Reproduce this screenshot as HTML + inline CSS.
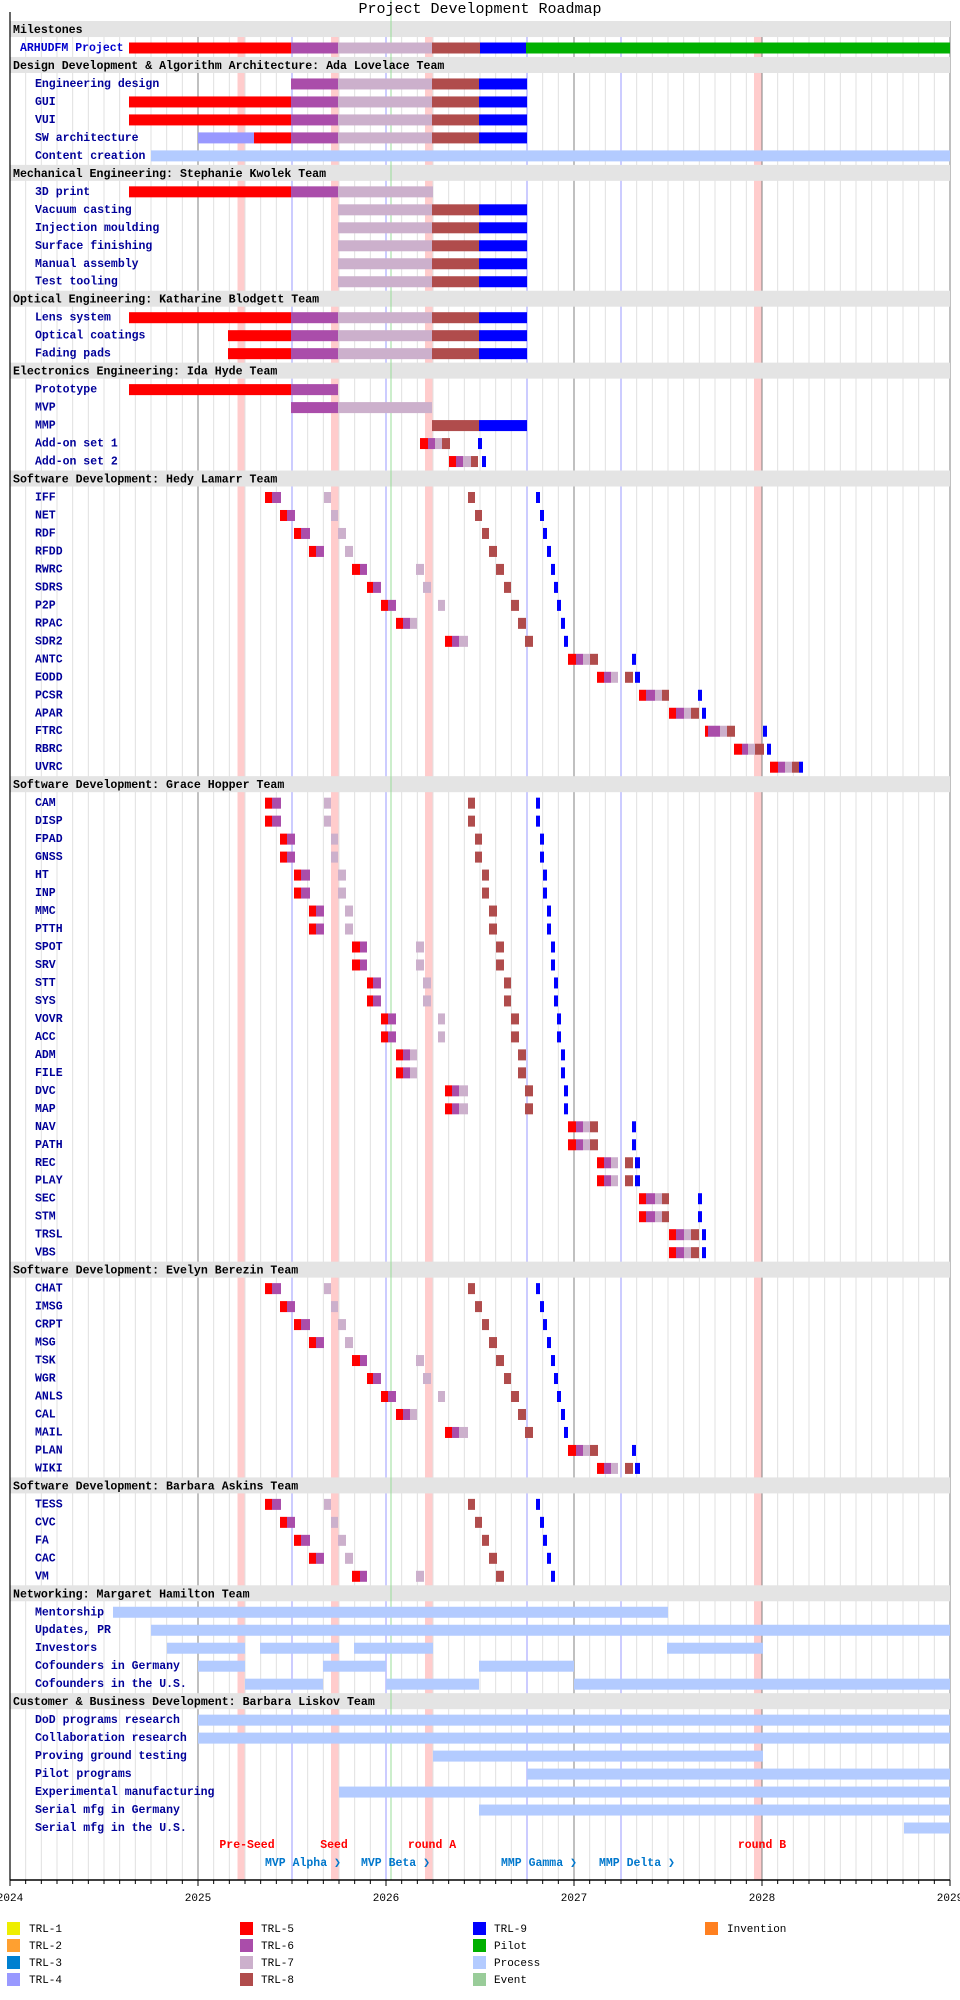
<!DOCTYPE html>
<html><head><meta charset="utf-8"><style>
html,body{margin:0;padding:0;background:#fff;width:960px;height:2000px;overflow:hidden}
svg{display:block}
text{font-family:"Liberation Mono",monospace}
.h{font-size:11.6px;font-weight:bold;fill:#000}
.r{font-size:11.5px;font-weight:bold;fill:#000099}
.y{font-size:11px;fill:#000}
.l{font-size:11px;fill:#000}
</style></head><body>
<svg id="s" width="960" height="2000" viewBox="0 0 960 2000" xmlns="http://www.w3.org/2000/svg">
<g id="bg"></g>
<g id="hd"></g>
<g id="gl"></g>
<g id="bars"></g>
<text x="480" y="13" text-anchor="middle" style="font-size:15px;fill:#000">Project Development Roadmap</text>
<g class="h">
<text x="13" y="33">Milestones</text>
<text x="13" y="69">Design Development &amp; Algorithm Architecture: Ada Lovelace Team</text>
<text x="13" y="176.9">Mechanical Engineering: Stephanie Kwolek Team</text>
<text x="13" y="302.7">Optical Engineering: Katharine Blodgett Team</text>
<text x="13" y="374.6">Electronics Engineering: Ida Hyde Team</text>
<text x="13" y="482.5">Software Development: Hedy Lamarr Team</text>
<text x="13" y="788.2">Software Development: Grace Hopper Team</text>
<text x="13" y="1273.6">Software Development: Evelyn Berezin Team</text>
<text x="13" y="1489.4">Software Development: Barbara Askins Team</text>
<text x="13" y="1597.3">Networking: Margaret Hamilton Team</text>
<text x="13" y="1705.2">Customer &amp; Business Development: Barbara Liskov Team</text>
</g>
<text x="20" y="51" class="r" style="fill:#0000cc">ARHUDFM Project</text>
<g class="r">
<text x="35" y="87">Engineering design</text>
<text x="35" y="104.9">GUI</text>
<text x="35" y="122.9">VUI</text>
<text x="35" y="140.9">SW architecture</text>
<text x="35" y="158.9">Content creation</text>
<text x="35" y="194.8">3D print</text>
<text x="35" y="212.8">Vacuum casting</text>
<text x="35" y="230.8">Injection moulding</text>
<text x="35" y="248.8">Surface finishing</text>
<text x="35" y="266.8">Manual assembly</text>
<text x="35" y="284.7">Test tooling</text>
<text x="35" y="320.7">Lens system</text>
<text x="35" y="338.7">Optical coatings</text>
<text x="35" y="356.7">Fading pads</text>
<text x="35" y="392.6">Prototype</text>
<text x="35" y="410.6">MVP</text>
<text x="35" y="428.6">MMP</text>
<text x="35" y="446.6">Add-on set 1</text>
<text x="35" y="464.5">Add-on set 2</text>
<text x="35" y="500.5">IFF</text>
<text x="35" y="518.5">NET</text>
<text x="35" y="536.5">RDF</text>
<text x="35" y="554.4">RFDD</text>
<text x="35" y="572.4">RWRC</text>
<text x="35" y="590.4">SDRS</text>
<text x="35" y="608.4">P2P</text>
<text x="35" y="626.4">RPAC</text>
<text x="35" y="644.3">SDR2</text>
<text x="35" y="662.3">ANTC</text>
<text x="35" y="680.3">EODD</text>
<text x="35" y="698.3">PCSR</text>
<text x="35" y="716.3">APAR</text>
<text x="35" y="734.2">FTRC</text>
<text x="35" y="752.2">RBRC</text>
<text x="35" y="770.2">UVRC</text>
<text x="35" y="806.2">CAM</text>
<text x="35" y="824.1">DISP</text>
<text x="35" y="842.1">FPAD</text>
<text x="35" y="860.1">GNSS</text>
<text x="35" y="878.1">HT</text>
<text x="35" y="896.1">INP</text>
<text x="35" y="914">MMC</text>
<text x="35" y="932">PTTH</text>
<text x="35" y="950">SPOT</text>
<text x="35" y="968">SRV</text>
<text x="35" y="986">STT</text>
<text x="35" y="1003.9">SYS</text>
<text x="35" y="1021.9">VOVR</text>
<text x="35" y="1039.9">ACC</text>
<text x="35" y="1057.9">ADM</text>
<text x="35" y="1075.9">FILE</text>
<text x="35" y="1093.8">DVC</text>
<text x="35" y="1111.8">MAP</text>
<text x="35" y="1129.8">NAV</text>
<text x="35" y="1147.8">PATH</text>
<text x="35" y="1165.8">REC</text>
<text x="35" y="1183.7">PLAY</text>
<text x="35" y="1201.7">SEC</text>
<text x="35" y="1219.7">STM</text>
<text x="35" y="1237.7">TRSL</text>
<text x="35" y="1255.7">VBS</text>
<text x="35" y="1291.6">CHAT</text>
<text x="35" y="1309.6">IMSG</text>
<text x="35" y="1327.6">CRPT</text>
<text x="35" y="1345.6">MSG</text>
<text x="35" y="1363.5">TSK</text>
<text x="35" y="1381.5">WGR</text>
<text x="35" y="1399.5">ANLS</text>
<text x="35" y="1417.5">CAL</text>
<text x="35" y="1435.5">MAIL</text>
<text x="35" y="1453.4">PLAN</text>
<text x="35" y="1471.4">WIKI</text>
<text x="35" y="1507.4">TESS</text>
<text x="35" y="1525.4">CVC</text>
<text x="35" y="1543.3">FA</text>
<text x="35" y="1561.3">CAC</text>
<text x="35" y="1579.3">VM</text>
<text x="35" y="1615.3">Mentorship</text>
<text x="35" y="1633.2">Updates, PR</text>
<text x="35" y="1651.2">Investors</text>
<text x="35" y="1669.2">Cofounders in Germany</text>
<text x="35" y="1687.2">Cofounders in the U.S.</text>
<text x="35" y="1723.1">DoD programs research</text>
<text x="35" y="1741.1">Collaboration research</text>
<text x="35" y="1759.1">Proving ground testing</text>
<text x="35" y="1777.1">Pilot programs</text>
<text x="35" y="1795.1">Experimental manufacturing</text>
<text x="35" y="1813">Serial mfg in Germany</text>
<text x="35" y="1831">Serial mfg in the U.S.</text>
</g>
<g style="font-size:11.5px;font-weight:bold;fill:#ff0000" text-anchor="middle">
<text x="247" y="1848">Pre-Seed</text>
<text x="334" y="1848">Seed</text>
<text x="432" y="1848">round A</text>
<text x="762" y="1848">round B</text>
</g>
<g style="font-size:11.5px;font-weight:bold;fill:#0077cc">
<text x="265" y="1866">MVP Alpha ❯</text>
<text x="361" y="1866">MVP Beta ❯</text>
<text x="501" y="1866">MMP Gamma ❯</text>
<text x="599" y="1866">MMP Delta ❯</text>
</g>
<g class="y" text-anchor="middle">
<text x="10" y="1901">2024</text>
<text x="198" y="1901">2025</text>
<text x="386" y="1901">2026</text>
<text x="574" y="1901">2027</text>
<text x="762" y="1901">2028</text>
<text x="950" y="1901">2029</text>
</g>
<g>
<rect x="7" y="1922" width="13" height="13" fill="#eeee00"/><rect x="7" y="1939" width="13" height="13" fill="#ffa030"/><rect x="7" y="1956" width="13" height="13" fill="#0080d0"/><rect x="7" y="1973" width="13" height="13" fill="#9999ff"/>
<rect x="240" y="1922" width="13" height="13" fill="#ff0000"/><rect x="240" y="1939" width="13" height="13" fill="#aa4daa"/><rect x="240" y="1956" width="13" height="13" fill="#ccb0cc"/><rect x="240" y="1973" width="13" height="13" fill="#b04c4c"/>
<rect x="473" y="1922" width="13" height="13" fill="#0000ff"/><rect x="473" y="1939" width="13" height="13" fill="#00b000"/><rect x="473" y="1956" width="13" height="13" fill="#b3cbff"/><rect x="473" y="1973" width="13" height="13" fill="#99cc99"/>
<rect x="705" y="1922" width="13" height="13" fill="#ff8020"/>
</g>
<g class="l">
<text x="29" y="1932">TRL-1</text><text x="29" y="1949">TRL-2</text><text x="29" y="1966">TRL-3</text><text x="29" y="1983">TRL-4</text>
<text x="261" y="1932">TRL-5</text><text x="261" y="1949">TRL-6</text><text x="261" y="1966">TRL-7</text><text x="261" y="1983">TRL-8</text>
<text x="494" y="1932">TRL-9</text><text x="494" y="1949">Pilot</text><text x="494" y="1966">Process</text><text x="494" y="1983">Event</text>
<text x="727" y="1932">Invention</text>
</g>
</svg>
<script>
(function(){
var NS="http://www.w3.org/2000/svg";
function el(g,tag,a){var e=document.createElementNS(NS,tag);for(var k in a)e.setAttribute(k,a[k]);document.getElementById(g).appendChild(e);return e;}
function Y(i){return 24.02+17.98*i;}
function R(g,x1,x2,y,h,c){el(g,"rect",{x:x1,y:y,width:Math.max(0,x2-x1),height:h,fill:c});}
var C={R:"#ff0000",P:"#aa4daa",L:"#ccb0cc",M:"#b04c4c",B:"#0000ff",G:"#00b000",S:"#b3cbff",F:"#9999ff"};
// pink bands
[[237.5,245],[331,339],[425,433],[754,762]].forEach(function(b){R("bg",b[0],b[1],21,1859,"#ffcccc");});
// grid lines
for(var m=0;m<=60;m++){var x=10+188*m/12;var c=(m%12==0)?"#808080":"#e0e0e0";
 if(m==18||m==24||m==33||m==39)c="#9999ff";
 if(m==0)continue;
 el("bg","line",{x1:x,x2:x,y1:21,y2:1880,stroke:c,"stroke-width":1});}
// headers
[0,2,8,15,19,25,42,69,81,87,93].forEach(function(i){R("hd",10,950,Y(i)-3,16,"#e4e4e4");});
// today line
el("gl","line",{x1:391,x2:391,y1:0,y2:1880,stroke:"#99dd99","stroke-width":1});
// axis
el("gl","line",{x1:10,x2:10,y1:12,y2:1880,stroke:"#000","stroke-width":1.2});
el("gl","line",{x1:10,x2:950,y1:1880,y2:1880,stroke:"#000","stroke-width":1.5});
for(var m=0;m<=60;m++){var x=10+188*m/12;el("gl","line",{x1:x,x2:x,y1:1880,y2:(m%12==0)?1886:1884,stroke:"#000","stroke-width":1});}
function row(i,segs){var y=Y(i)+0.5;segs.forEach(function(s){R("bars",s[0],s[1],y,11,C[s[2]]);});}
var full=[[129,291,"R"],[291,338,"P"],[338,432,"L"],[432,479,"M"],[479,527,"B"]];
row(1,[[129,291,"R"],[291,338,"P"],[338,432,"L"],[432,480,"M"],[480,526,"B"],[526,950,"G"]]);
row(3,full.slice(1));row(4,full);row(5,full);
row(6,[[198,254,"F"],[254,291,"R"]].concat(full.slice(1)));
row(7,[[151,950,"S"]]);
row(9,[[129,291,"R"],[291,338,"P"],[338,433,"L"]]);
for(var i=10;i<=14;i++)row(i,full.slice(2));
row(16,full);
row(17,[[228,291,"R"]].concat(full.slice(1)));
row(18,[[228,291,"R"]].concat(full.slice(1)));
row(20,[[129,291,"R"],[291,338,"P"]]);
row(21,[[291,338,"P"],[338,432,"L"]]);
row(22,[[432,479,"M"],[479,527,"B"]]);
var T={
IFF:[265,272,281,324,331,468,475,536,540],
NET:[280,287,295,331,338,475,482,540,544],
RDF:[294,301,310,338,346,482,489,543,547],
RFDD:[309,316,324,345,353,489,497,547,551],
RWRC:[352,360,367,416,424,496,504,551,555],
SDRS:[367,373,381,423,431,504,511,554,558],
P2P:[381,388,396,438,445,511,519,557,561],
RPAC:[396,403,410,410,417,518,526,561,565],
SDR2:[445,452,459,459,468,525,533,564,568],
ANTC:[568,576,583,583,590,590,598,632,636],
EODD:[597,604,611,611,618,625,633,635,640],
PCSR:[639,646,655,655,662,662,669,698,702],
APAR:[669,676,684,684,691,691,699,702,706],
FTRC:[705,708,720,720,727,727,735,763,767],
RBRC:[734,742,748,748,755,755,764,767,771],
UVRC:[770,778,785,785,792,792,799,799,803],
A1:[420,428,435,435,442,442,450,478,482],
A2:[449,456,463,463,471,471,478,482,486]};
function sm(i,k){var a=T[k];row(i,[[a[0],a[1],"R"],[a[1],a[2],"P"],[a[3],a[4],"L"],[a[5],a[6],"M"],[a[7],a[8],"B"]]);}
sm(23,"A1");sm(24,"A2");
var H=["IFF","NET","RDF","RFDD","RWRC","SDRS","P2P","RPAC","SDR2","ANTC","EODD","PCSR","APAR","FTRC","RBRC","UVRC"];
H.forEach(function(k,j){sm(26+j,k);});
var G=["IFF","IFF","NET","NET","RDF","RDF","RFDD","RFDD","RWRC","RWRC","SDRS","SDRS","P2P","P2P","RPAC","RPAC","SDR2","SDR2","ANTC","ANTC","EODD","EODD","PCSR","PCSR","APAR","APAR"];
G.forEach(function(k,j){sm(43+j,k);});
H.slice(0,11).forEach(function(k,j){sm(70+j,k);});
H.slice(0,5).forEach(function(k,j){sm(82+j,k);});
row(88,[[113,668,"S"]]);
row(89,[[151,950,"S"]]);
row(90,[[167,245,"S"],[260,339,"S"],[354,433,"S"],[667,763,"S"]]);
row(91,[[198,245,"S"],[323,386,"S"],[479,574,"S"]]);
row(92,[[245,323,"S"],[386,479,"S"],[574,950,"S"]]);
row(94,[[198,950,"S"]]);row(95,[[198,950,"S"]]);
row(96,[[433,763,"S"]]);row(97,[[527,950,"S"]]);row(98,[[339,950,"S"]]);
row(99,[[479,950,"S"]]);row(100,[[904,950,"S"]]);
})();
</script>
</body></html>
